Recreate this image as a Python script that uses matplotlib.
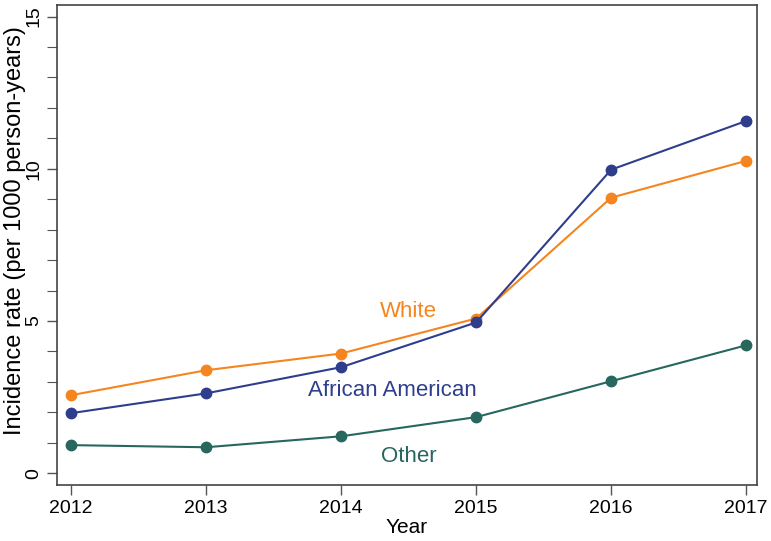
import matplotlib
matplotlib.use("Agg")
import matplotlib.pyplot as plt
from matplotlib.ticker import MultipleLocator
from matplotlib import font_manager

years = [2012, 2013, 2014, 2015, 2016, 2017]
white = [2.56, 3.38, 3.93, 5.08, 9.05, 10.26]
african_american = [1.97, 2.62, 3.48, 4.95, 9.97, 11.57]
other = [0.92, 0.85, 1.21, 1.84, 3.02, 4.20]

c_white = '#F5851F'
c_aa = '#2F3E8C'
c_other = '#27675D'

names = {f.name for f in font_manager.fontManager.ttflist}
tickfont = 'Liberation Sans Narrow' if 'Liberation Sans Narrow' in names else 'Liberation Sans'
plt.rcParams['font.family'] = ['Liberation Sans', 'DejaVu Sans']

fig = plt.figure(figsize=(7.71, 5.41), dpi=100)
ax = fig.add_axes([57/771, 1-485/541, (757-57)/771, (485-5)/541])

for vals, c in [(white, c_white), (african_american, c_aa), (other, c_other)]:
    ax.plot(years, vals, color=c, lw=1.5, marker='o', ms=7.5, mec=c, mfc=c, zorder=3)

ax.text(2014.5, 5.31, 'White', color=c_white, fontsize=16, ha='center', va='center')
ax.text(2014.38, 2.72, 'African American', color=c_aa, fontsize=16, ha='center', va='center')
ax.text(2014.5, 0.56, 'Other', color=c_other, fontsize=16, ha='center', va='center')

ax.set_xlim(2011.896, 2017.08)
ax.set_ylim(-0.39, 15.38)
ax.set_xticks(years)
ax.set_yticks([0, 5, 10, 15])
ax.yaxis.set_minor_locator(MultipleLocator(1))
ax.tick_params(axis='both', which='major', length=7, width=1, color='#555555', labelsize=14)
ax.tick_params(axis='y', which='minor', length=7, width=0.8, color='#555555')
for lab in ax.get_xticklabels():
    lab.set_family([tickfont, 'DejaVu Sans'])
for lab in ax.get_yticklabels():
    lab.set_family([tickfont, 'DejaVu Sans'])
    lab.set_rotation(90)
    lab.set_va('center')
for s in ax.spines.values():
    s.set_color('#444444')
    s.set_linewidth(1.2)

ax.set_xlabel('Year', fontsize=15, labelpad=1, family=[tickfont, 'DejaVu Sans'])
ax.set_ylabel('Incidence rate (per 1000 person-years)', fontsize=17)
ax.yaxis.set_label_coords(-31/700, 0.53)

fig.savefig('out.png', dpi=100)
